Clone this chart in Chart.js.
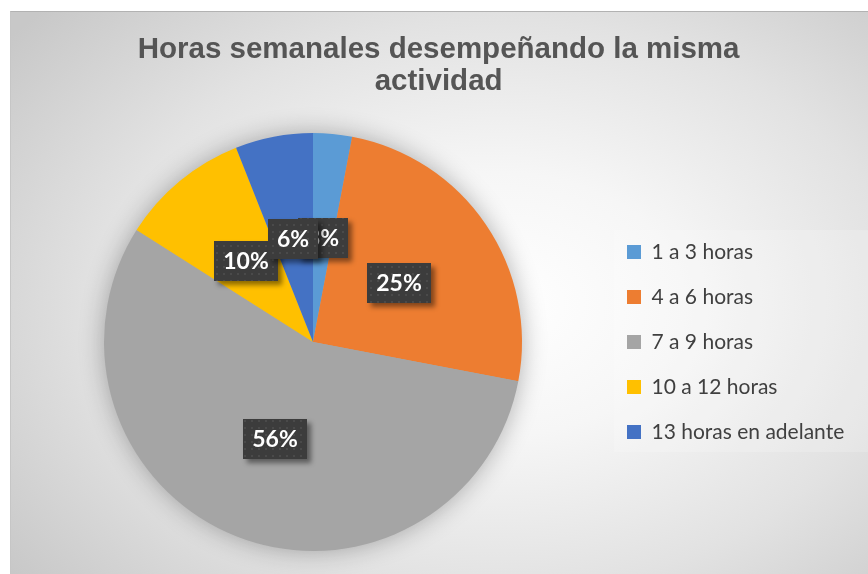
<!DOCTYPE html>
<html><head><meta charset="utf-8">
<script src="https://cdn.jsdelivr.net/npm/chart.js@4/dist/chart.umd.min.js"></script>
<style>
html,body{margin:0;padding:0;background:#fff;width:868px;height:574px;overflow:hidden;}
#bg{position:absolute;left:10px;top:11px;width:858px;height:563px;box-sizing:border-box;border-top:1px solid #b2b2b2;border-left:1px solid #c6c6c6;
background:radial-gradient(ellipse 72% 78% at 57% 52%, #ffffff 0%, #f6f6f6 30%, #e2e2e2 65%, #c8c8c8 100%);}
#c{position:absolute;left:10px;top:11px;}
</style></head><body>
<div id="bg"></div>
<canvas id="c" width="858" height="563"></canvas>
<script>
const titleLines = ['Horas semanales desempeñando la misma', 'actividad'];
const categories = ['1 a 3 horas', '4 a 6 horas', '7 a 9 horas', '10 a 12 horas', '13 horas en adelante'];
const percentages = [3, 25, 56, 10, 6];
const sliceColors = ['#5B9BD5', '#ED7D31', '#A5A5A5', '#FFC000', '#4472C4'];

const canvas = document.getElementById('c');
const ctx0 = canvas.getContext('2d');

// legend layout measurement
const legendFont = 21, legendPad = 24, legendBox = 14;
ctx0.font = legendFont + 'px Lato';
let tw = 0;
categories.forEach(t => { tw = Math.max(tw, ctx0.measureText(t).width); });
const padL = 13, legendLeft = 593;
const legendW = legendPad + legendBox + legendFont / 2 + tw + 10;
const padR = Math.max(0, 858 - legendLeft - legendW);

// textured pattern for label boxes
const pc = document.createElement('canvas');
pc.width = 7; pc.height = 7;
const pctx = pc.getContext('2d');
pctx.fillStyle = '#3c3c3c'; pctx.fillRect(0, 0, 7, 7);
pctx.fillStyle = '#4a4a4a'; pctx.fillRect(3, 3, 2, 2);
const pattern = ctx0.createPattern(pc, 'repeat');

const pieShadow = {
  id: 'pieShadow',
  beforeDatasetsDraw(chart) {
    const a = chart.getDatasetMeta(0).data[0];
    if (!a) return;
    const ctx = chart.ctx;
    ctx.save();
    ctx.shadowColor = 'rgba(0,0,0,0.32)';
    ctx.shadowBlur = 26;
    ctx.fillStyle = '#aaaaaa';
    ctx.beginPath();
    ctx.arc(a.x, a.y, a.outerRadius - 1, 0, Math.PI * 2);
    ctx.fill();
    ctx.restore();
  }
};

const legendBg = {
  id: 'legendBg',
  beforeDraw(chart) {
    const lg = chart.legend;
    const ctx = chart.ctx;
    const ca = chart.chartArea;
    const top = (ca.top + ca.bottom) / 2 - 112;
    ctx.save();
    ctx.fillStyle = 'rgba(255,255,255,0.18)';
    ctx.fillRect(lg.left + 11, top, 858 - lg.left - 11, 222);
    ctx.restore();
  }
};

const boxLabels = {
  id: 'boxLabels',
  afterDatasetsDraw(chart) {
    const ctx = chart.ctx;
    const meta = chart.getDatasetMeta(0);
    const vals = chart.data.datasets[0].data;
    ctx.save();
    ctx.font = 'bold 23px Lato';
    ctx.textAlign = 'center';
    ctx.textBaseline = 'middle';
    meta.data.forEach((arc, i) => {
      const p = arc.tooltipPosition();
      const txt = vals[i] + '%';
      const w = Math.round(ctx.measureText(txt).width + 18), h = 40;
      const x = Math.round(p.x - w / 2), y = Math.round(p.y - h / 2);
      ctx.save();
      ctx.shadowColor = 'rgba(0,0,0,0.45)';
      ctx.shadowBlur = 5; ctx.shadowOffsetX = 4; ctx.shadowOffsetY = 4;
      ctx.fillStyle = '#3c3c3c';
      ctx.fillRect(x, y, w, h);
      ctx.restore();
      ctx.fillStyle = pattern;
      ctx.fillRect(x, y, w, h);
      ctx.fillStyle = '#ffffff';
      ctx.fillText(txt, x + w / 2, y + h / 2 + 1);
    });
    ctx.restore();
  }
};

new Chart(canvas, {
  type: 'pie',
  data: {
    labels: categories,
    datasets: [{
      data: percentages,
      backgroundColor: sliceColors,
      borderWidth: 0
    }]
  },
  options: {
    responsive: false,
    animation: false,
    layout: { padding: { left: padL, right: padR, top: 0, bottom: 23 } },
    plugins: {
      title: {
        display: true,
        text: titleLines,
        color: '#555555',
        font: { family: 'Liberation Sans', weight: 'bold', size: 29.5, lineHeight: 1.085 },
        padding: { top: 23, bottom: 35 }
      },
      legend: {
        display: true,
        position: 'right',
        fullSize: false,
        labels: {
          boxWidth: legendBox,
          boxHeight: legendBox,
          padding: legendPad,
          color: '#404040',
          font: { family: 'Lato', size: legendFont }
        }
      },
      tooltip: { enabled: false }
    }
  },
  plugins: [legendBg, pieShadow, boxLabels]
});
</script>
</body></html>
